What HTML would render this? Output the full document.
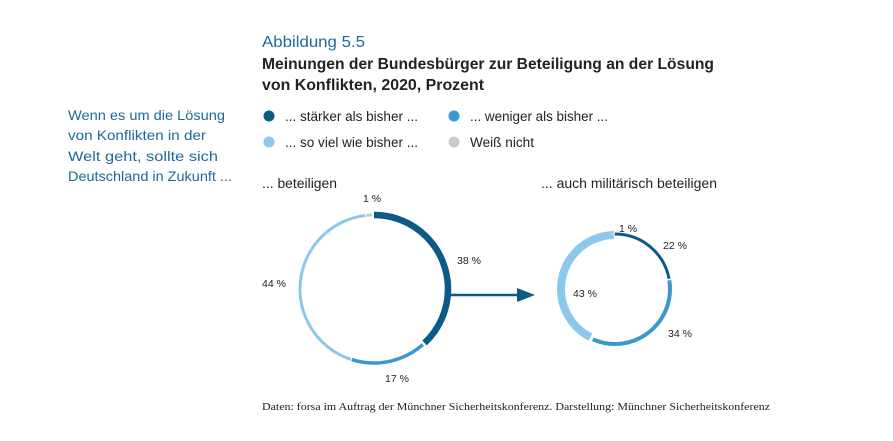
<!DOCTYPE html>
<html><head><meta charset="utf-8"><style>
body{margin:0;background:#fff;width:893px;height:441px;overflow:hidden}
svg{display:block;font-family:"Liberation Sans","DejaVu Sans",sans-serif}
</style></head><body>
<svg width="893" height="441" viewBox="0 0 893 441">
<text x="262" y="47" font-size="16" fill="#1d6a9a" textLength="103" lengthAdjust="spacingAndGlyphs">Abbildung 5.5</text>
<text x="262" y="69" font-size="15.5" font-weight="bold" fill="#222" textLength="452" lengthAdjust="spacingAndGlyphs">Meinungen der Bundesbürger zur Beteiligung an der Lösung</text>
<text x="262" y="90" font-size="15.5" font-weight="bold" fill="#222" textLength="222" lengthAdjust="spacingAndGlyphs">von Konflikten, 2020, Prozent</text>
<g font-size="14" fill="#1d6a9a">
<text x="68" y="120" textLength="157" lengthAdjust="spacingAndGlyphs">Wenn es um die Lösung</text>
<text x="68" y="140" textLength="138" lengthAdjust="spacingAndGlyphs">von Konflikten in der</text>
<text x="68" y="161" textLength="150" lengthAdjust="spacingAndGlyphs">Welt geht, sollte sich</text>
<text x="68" y="181" textLength="164" lengthAdjust="spacingAndGlyphs">Deutschland in Zukunft ...</text>
</g>
<circle cx="269" cy="116" r="5.5" fill="#0c5a87"/>
<circle cx="454" cy="116" r="5.5" fill="#3a98cf"/>
<circle cx="269" cy="142" r="5.5" fill="#8cc8ec"/>
<circle cx="454" cy="142" r="5.5" fill="#cfcac6"/>
<g font-size="13.5" fill="#222">
<text x="285" y="121" textLength="133" lengthAdjust="spacingAndGlyphs">... stärker als bisher ...</text>
<text x="470" y="121" textLength="138" lengthAdjust="spacingAndGlyphs">... weniger als bisher ...</text>
<text x="285" y="147" textLength="133" lengthAdjust="spacingAndGlyphs">... so viel wie bisher ...</text>
<text x="470" y="147" textLength="64" lengthAdjust="spacingAndGlyphs">Weiß nicht</text>
<text x="262" y="188" textLength="75" lengthAdjust="spacingAndGlyphs">... beteiligen</text>
<text x="541" y="188" textLength="176" lengthAdjust="spacingAndGlyphs">... auch militärisch beteiligen</text>
</g>
<g transform="rotate(-90 374 289)" fill="none">
<circle cx="374" cy="289" r="74" stroke="#0c5a87" stroke-width="6.5" stroke-dasharray="176.7 465"/>
<circle cx="374" cy="289" r="74" stroke="#3a98cf" stroke-width="3.5" stroke-dasharray="76 465" stroke-dashoffset="-179"/>
<circle cx="374" cy="289" r="74" stroke="#8cc8ec" stroke-width="3" stroke-dasharray="200 465" stroke-dashoffset="-256"/>
<circle cx="374" cy="289" r="74" stroke="#cfcac6" stroke-width="3" stroke-dasharray="6 465" stroke-dashoffset="-457"/>
</g>
<g transform="rotate(-90 615 289)" fill="none">
<circle cx="615" cy="289" r="55" stroke="#0c5a87" stroke-width="3" stroke-dasharray="76 352"/>
<circle cx="615" cy="289" r="55" stroke="#3a98cf" stroke-width="4" stroke-dasharray="118 352" stroke-dashoffset="-77.5"/>
<circle cx="615" cy="289" r="54" stroke="#8cc8ec" stroke-width="8" stroke-dasharray="143 352" stroke-dashoffset="-195"/>
<circle cx="615" cy="289" r="55" stroke="#cfcac6" stroke-width="3" stroke-dasharray="4 352" stroke-dashoffset="-341"/>
</g>
<line x1="450" y1="295" x2="522" y2="295" stroke="#0c5a87" stroke-width="2.5"/>
<polygon points="517,288 535,295 517,302" fill="#0c5a87"/>
<g font-size="10.5" fill="#222">
<text x="363" y="202">1 %</text>
<text x="457" y="264">38 %</text>
<text x="262" y="287">44 %</text>
<text x="385" y="382">17 %</text>
<text x="619" y="232">1 %</text>
<text x="663" y="249">22 %</text>
<text x="573" y="297">43 %</text>
<text x="668" y="337">34 %</text>
</g>
<text x="262" y="410" font-size="10" fill="#222" font-family="Liberation Serif,serif" textLength="508" lengthAdjust="spacingAndGlyphs">Daten: forsa im Auftrag der Münchner Sicherheitskonferenz. Darstellung: Münchner Sicherheitskonferenz</text>
</svg>
</body></html>
